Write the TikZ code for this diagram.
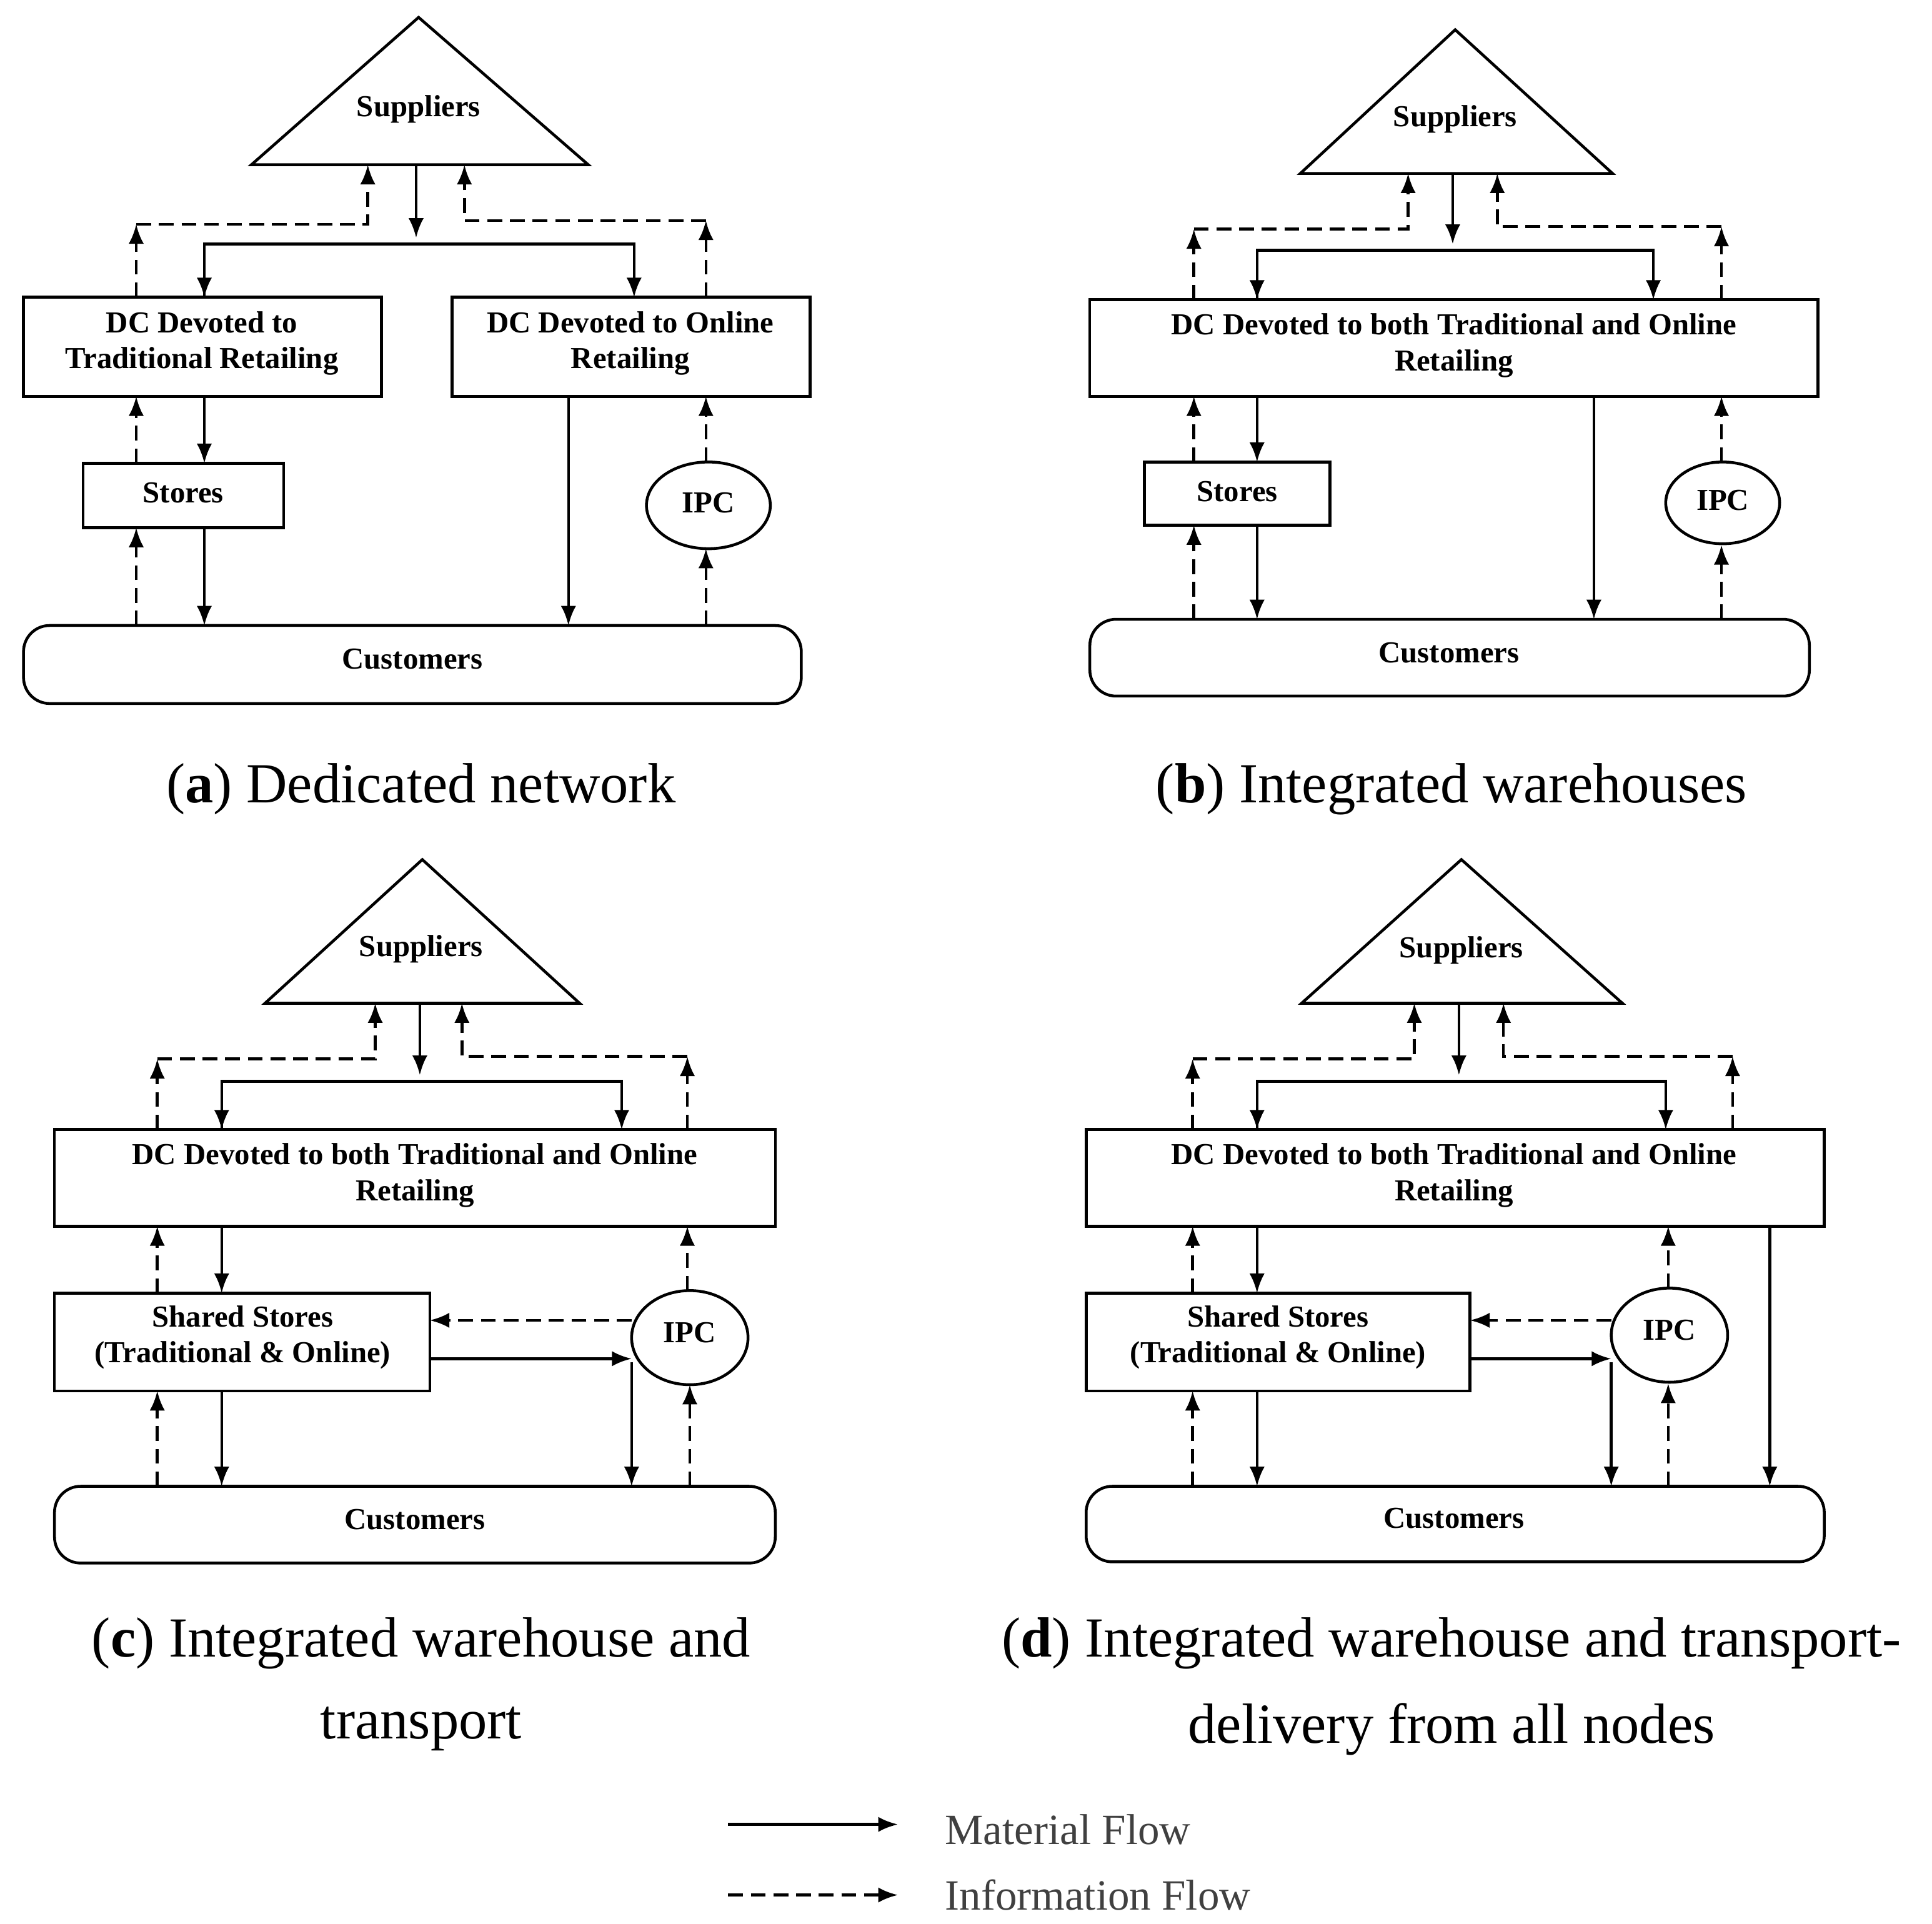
\documentclass[tikz,border=0pt]{standalone}
\usepackage{fontspec}
\setmainfont{Liberation Serif}
\usetikzlibrary{arrows.meta}
\begin{document}
\begin{tikzpicture}[x=0.01cm,y=-0.01cm,
  line width=0.65pt,
  mat/.style={-{Latex[length=4.5pt,width=3.5pt]}},
  inf/.style={-{Latex[length=4.5pt,width=3.5pt]},dash pattern=on 3.4pt off 1.8pt},
  txt/.style={font=\bfseries\fontsize{7}{8.2}\selectfont,align=center,inner sep=0pt},
  captxt/.style={font=\fontsize{13}{15}\selectfont,inner sep=0pt},
  leg/.style={font=\fontsize{9.9}{11}\selectfont,text=black!75,anchor=west,inner sep=0pt}]
\useasboundingbox (0,0) rectangle (1560,1553);
% ---------- (a)
\draw (338,14) -- (475,133) -- (203,133) -- cycle;
\node[txt] (supA) at (338,88) {Suppliers};
\draw (19,240) rectangle (308,320); \node[txt] (dcA1) at (163,277) {DC Devoted to\\Traditional Retailing};
\draw (365,240) rectangle (654,320); \node[txt] (dcA2) at (509,277) {DC Devoted to Online\\Retailing};
\draw (67,374) rectangle (229,426); \node[txt] (stA) at (148,398) {Stores};
\draw (572,408) ellipse [x radius=50,y radius=35]; \node[txt] (ipcA) at (572,406) {IPC};
\draw[rounded corners=6] (19,505) rectangle (647,568); \node[txt] (cuA) at (333,532) {Customers};
\draw[mat] (336,133) -- (336,192);
\draw[mat] (165,240) |- (340,197) -| (512,240);
\draw[mat] (165,197) -- (165,240);
\draw[inf] (110,240) -- (110,181);
\draw[inf] (110,181) -| (297,133);
\draw[inf] (570,240) -- (570,178);
\draw[inf] (570,178) -| (375,133);
\draw[mat] (165,320) -- (165,374);
\draw[inf] (110,374) -- (110,320);
\draw[mat] (165,426) -- (165,505);
\draw[inf] (110,505) -- (110,426);
\draw[mat] (459,320) -- (459,505);
\draw[inf] (570,505) -- (570,443);
\draw[inf] (570,373) -- (570,320);
\node[captxt] (capA) at (340,637) {(\textbf{a}) Dedicated network};
% ---------- (b)
\draw (1175,24) -- (1302,140) -- (1050,140) -- cycle;
\node[txt] (supB) at (1175,96) {Suppliers};
\draw (880,242) rectangle (1468,320); \node[txt] (dcB) at (1174,279) {DC Devoted to both Traditional and Online\\Retailing};
\draw (924,373) rectangle (1074,424); \node[txt] (stB) at (999,397) {Stores};
\draw (1391,406) ellipse [x radius=46,y radius=33]; \node[txt] (ipcB) at (1391,404) {IPC};
\draw[rounded corners=6] (880,500) rectangle (1461,562); \node[txt] (cuB) at (1170,527) {Customers};
\draw[mat] (1173,140) -- (1173,197);
\draw[mat] (1015,242) |- (1175,202) -| (1335,242);
\draw[mat] (1015,202) -- (1015,242);
\draw[inf] (964,242) -- (964,185);
\draw[inf] (964,185) -| (1137,140);
\draw[inf] (1390,242) -- (1390,183);
\draw[inf] (1390,183) -| (1209,140);
\draw[mat] (1015,320) -- (1015,373);
\draw[inf] (964,373) -- (964,320);
\draw[mat] (1015,424) -- (1015,500);
\draw[inf] (964,500) -- (964,424);
\draw[mat] (1287,320) -- (1287,500);
\draw[inf] (1390,500) -- (1390,440);
\draw[inf] (1390,373) -- (1390,320);
\node[captxt] (capB) at (1172,637) {(\textbf{b}) Integrated warehouses};
% ---------- (c)
\draw (341,694) -- (468,810) -- (214,810) -- cycle;
\node[txt] (supC) at (340,766) {Suppliers};
\draw (44,912) rectangle (626,990); \node[txt] (dcC) at (335,949) {DC Devoted to both Traditional and Online\\Retailing};
\draw (44,1044) rectangle (347,1123); \node[txt] (stC) at (196,1080) {Shared Stores\\(Traditional \& Online)};
\draw (557,1080) ellipse [x radius=47,y radius=38]; \node[txt] (ipcC) at (557,1076) {IPC};
\draw[rounded corners=6] (44,1200) rectangle (626,1262); \node[txt] (cuC) at (335,1227) {Customers};
\draw[mat] (339,810) -- (339,868);
\draw[mat] (179,912) |- (340,873) -| (502,912);
\draw[mat] (179,873) -- (179,912);
\draw[inf] (127,912) -- (127,855);
\draw[inf] (127,855) -| (303,810);
\draw[inf] (555,912) -- (555,853);
\draw[inf] (555,853) -| (373,810);
\draw[mat] (179,990) -- (179,1044);
\draw[inf] (127,1044) -- (127,990);
\draw[inf] (510,1066) -- (347,1066);
\draw[mat] (347,1097) -- (510,1097);
\draw[mat] (510,1100) -- (510,1200);
\draw[inf] (555,1042) -- (555,990);
\draw[inf] (557,1200) -- (557,1118);
\draw[mat] (179,1123) -- (179,1200);
\draw[inf] (127,1200) -- (127,1123);
\node[captxt] (capC1) at (340,1327) {(\textbf{c}) Integrated warehouse and};
\node[captxt] (capC2) at (340,1396) {transport};
% ---------- (d)
\draw (1180,694) -- (1310,810) -- (1051,810) -- cycle;
\node[txt] (supD) at (1180,767) {Suppliers};
\draw (877,912) rectangle (1473,990); \node[txt] (dcD) at (1174,949) {DC Devoted to both Traditional and Online\\Retailing};
\draw (877,1044) rectangle (1187,1123); \node[txt] (stD) at (1032,1080) {Shared Stores\\(Traditional \& Online)};
\draw (1348,1078) ellipse [x radius=47,y radius=38]; \node[txt] (ipcD) at (1348,1074) {IPC};
\draw[rounded corners=6] (877,1200) rectangle (1473,1261); \node[txt] (cuD) at (1174,1226) {Customers};
\draw[mat] (1178,810) -- (1178,868);
\draw[mat] (1015,912) |- (1180,873) -| (1345,912);
\draw[mat] (1015,873) -- (1015,912);
\draw[inf] (963,912) -- (963,855);
\draw[inf] (963,855) -| (1142,810);
\draw[inf] (1399,912) -- (1399,853);
\draw[inf] (1399,853) -| (1214,810);
\draw[mat] (1015,990) -- (1015,1044);
\draw[inf] (963,1044) -- (963,990);
\draw[inf] (1301,1066) -- (1187,1066);
\draw[mat] (1187,1097) -- (1301,1097);
\draw[mat] (1301,1100) -- (1301,1200);
\draw[inf] (1347,1040) -- (1347,990);
\draw[inf] (1347,1200) -- (1347,1117);
\draw[mat] (1429,990) -- (1429,1200);
\draw[mat] (1015,1123) -- (1015,1200);
\draw[inf] (963,1200) -- (963,1123);
\node[captxt] (capD1) at (1172,1327) {(\textbf{d}) Integrated warehouse and transport-};
\node[captxt] (capD2) at (1172,1396) {delivery from all nodes};
% ---------- legend
\coordinate (l1a) at (588,1473); \coordinate (l1b) at (725,1473);
\coordinate (l2a) at (588,1530); \coordinate (l2b) at (725,1530);
\draw[mat] (l1a) -- (l1b);
\draw[inf] (l2a) -- (l2b);
\node[leg] (lm) at (762,1477) {Material Flow};
\node[leg] (li) at (762,1530) {Information Flow};
\end{tikzpicture}
\end{document}
